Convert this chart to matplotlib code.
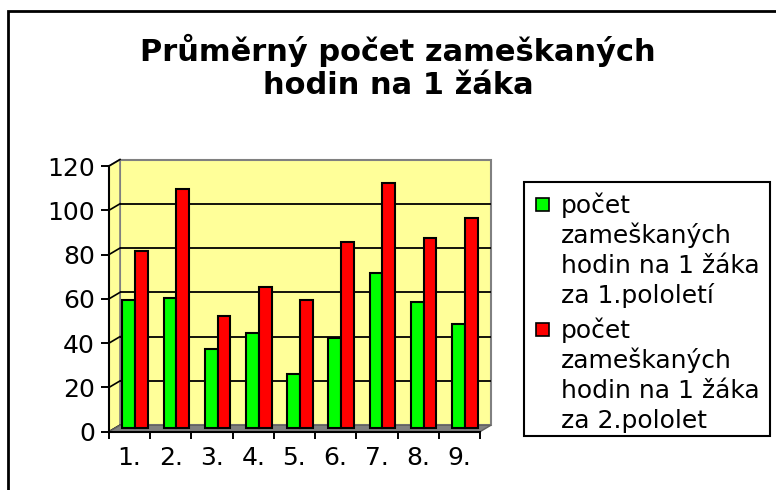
import numpy as np
import matplotlib.pyplot as plt
from matplotlib.patches import Rectangle, Polygon
from matplotlib.transforms import ScaledTranslation, IdentityTransform

categories = ["1.", "2.", "3.", "4.", "5.", "6.", "7.", "8.", "9."]
first_half = [58, 59, 36, 43, 24.5, 41, 70, 57, 47]
second_half = [80, 108, 51, 64, 58, 84, 111, 86, 95]
series_labels = ["počet\nzameškaných\nhodin na 1 žáka\nza 1.pololetí",
                 "počet\nzameškaných\nhodin na 1 žáka\nza 2.pololet"]
series_colors = ["#00FF00", "#FF0000"]
yticks = [0, 20, 40, 60, 80, 100, 120]
title = "Průměrný počet zameškaných\nhodin na 1 žáka"

plt.rcParams['font.family'] = ['DejaVu Sans']

W, H = 776, 490
fig = plt.figure(figsize=(W / 100, H / 100), dpi=100)
fig.patch.set_facecolor("white")

# outer chart border (runs off the right and bottom edge)
fig.add_artist(Rectangle((8 / W, -0.1), 1.2, 1 - 11 / H + 0.1, transform=fig.transFigure,
                         fill=False, edgecolor="black", lw=2))

ax = fig.add_axes([109 / W, 58.3 / H, 371 / W, 265.7 / H])
ax.set_xlim(-0.5, 8.5)
ax.set_ylim(0, 120)
ax.patch.set_visible(False)

# depth offset for the pseudo 3D look
dx, dy = 11, 6.5
back = ax.transData + ScaledTranslation(dx / 100, dy / 100, fig.dpi_scale_trans)
mid = ax.transData + ScaledTranslation(dx / 200, dy / 200, fig.dpi_scale_trans)
d = np.array([dx, dy])
ident = IdentityTransform()

# back wall
ax.add_patch(Rectangle((-0.5, 0), 9, 120, transform=back, facecolor="#FFFF99",
                       edgecolor="#808080", lw=1.5, zorder=0, clip_on=False))
# side wall
p0 = ax.transData.transform((-0.5, 0))
p1 = ax.transData.transform((-0.5, 120))
p2 = ax.transData.transform((8.5, 0))
ax.add_patch(Polygon([p0, p1, p1 + d, p0 + d], transform=ident, facecolor="#FFFF99",
                     edgecolor="#808080", lw=1.2, zorder=0, clip_on=False))
# gridlines on the back wall and the side wall
ax.hlines(yticks[1:-1], -0.5, 8.5, transform=back, color="black", lw=1.3, zorder=1,
          clip_on=False)
for v in yticks:
    a = ax.transData.transform((-0.5, v))
    ax.plot([a[0], a[0] + dx], [a[1], a[1] + dy], transform=ident, color="black",
            lw=1.2, zorder=1, clip_on=False)
# floor
ax.add_patch(Polygon([p0, p2, p2 + d, p0 + d], transform=ident, facecolor="#808080",
                     edgecolor="#606060", lw=1, zorder=1, clip_on=False))

x = np.arange(len(categories))
w = 0.31
ax.bar(x - w / 2, first_half, w, color=series_colors[0], edgecolor="black", lw=1.5,
       transform=mid, zorder=3, clip_on=False)
ax.bar(x + w / 2, second_half, w, color=series_colors[1], edgecolor="black", lw=1.5,
       transform=mid, zorder=3, clip_on=False)

for s in ["top", "right"]:
    ax.spines[s].set_visible(False)
for s in ["left", "bottom"]:
    ax.spines[s].set_linewidth(1.5)
    ax.spines[s].set_zorder(5)

ax.set_yticks(yticks)
ax.tick_params(axis="y", length=6, width=1.4, pad=4, labelsize=18)
ax.set_xticks(x, categories)
ax.set_xticks(np.arange(-0.5, 9.0, 1.0), minor=True)
ax.tick_params(axis="x", which="major", length=0, pad=10, labelsize=18)
ax.tick_params(axis="x", which="minor", length=5, width=1.4)

fig.text(398 / W, 1 - 67 / H, title, ha="center", va="center", fontsize=22,
         fontweight="bold", linespacing=1.15)

# legend box drawn by hand so the markers sit at the first line
fig.add_artist(Rectangle((524 / W, 1 - 436 / H), 246 / W, 254 / H, transform=fig.transFigure,
                         fill=False, edgecolor="black", lw=1.5))
for i, (lab, col) in enumerate(zip(series_labels, series_colors)):
    base = 213 + i * 125
    fig.add_artist(Rectangle((536 / W, 1 - (base - 2) / H), 13 / W, 13 / H,
                             transform=fig.transFigure, facecolor=col,
                             edgecolor="black", lw=1.2))
    for j, line in enumerate(lab.split("\n")):
        fig.text(561 / W, 1 - (base + j * 30) / H, line, ha="left", va="baseline",
                 fontsize=18)

fig.savefig("out.png", dpi=100)
